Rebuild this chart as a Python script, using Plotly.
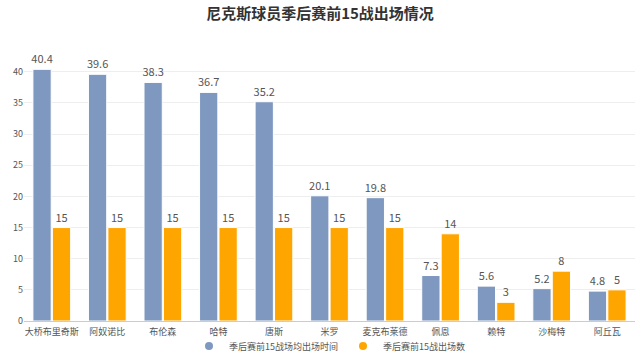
import plotly.graph_objects as go

players = ["大桥布里奇斯", "阿奴诺比", "布伦森", "哈特", "唐斯", "米罗", "麦克布莱德", "佩恩", "赖特", "沙梅特", "阿丘瓦"]
minutes = [40.4, 39.6, 38.3, 36.7, 35.2, 20.1, 19.8, 7.3, 5.6, 5.2, 4.8]
games = [15, 15, 15, 15, 15, 15, 15, 14, 3, 8, 5]
y_ticks = [0, 5, 10, 15, 20, 25, 30, 35, 40]
series_names = ["季后赛前15战场均出场时间", "季后赛前15战出场数"]
colors = ["#7f98c0", "#ffa500"]

font_family = "Noto Sans CJK SC, Microsoft YaHei, sans-serif"

fig = go.Figure()
for vals, name, col in zip([minutes, games], series_names, colors):
    fig.add_trace(go.Bar(
        x=players, y=vals, name=name, showlegend=False,
        marker=dict(color=col, line=dict(color="white", width=1)),
        text=[str(v) for v in vals], textposition="outside", constraintext="none",
        textfont=dict(size=11, color="#555"), cliponaxis=False,
    ))
for name, col in zip(series_names, colors):
    fig.add_trace(go.Scatter(
        x=[None], y=[None], mode="markers", name=name,
        marker=dict(symbol="circle", size=8, color=col),
    ))

fig.update_layout(
    width=640, height=356,
    margin=dict(l=24, r=5, t=55, b=35, autoexpand=False),
    paper_bgcolor="white", plot_bgcolor="white",
    font=dict(family=font_family, size=9, color="#555"),
    title=dict(text="<b>尼克斯球员季后赛前15战出场情况</b>", x=0.5, xanchor="center",
               y=0.96, yanchor="middle", font=dict(size=15, color="#333")),
    barmode="group", bargap=0.3, bargroupgap=0.06,
    showlegend=True,
    legend=dict(orientation="h", x=0.5, xanchor="center", yref="container", y=0.028, yanchor="middle",
                font=dict(size=9, color="#555"), itemwidth=30, traceorder="normal",
                tracegroupgap=0, bgcolor="rgba(0,0,0,0)"),
    xaxis=dict(showline=True, linecolor="#ccc", ticks="", tickfont=dict(size=9, color="#555"),
               tickangle=0, ticklabelstandoff=2),
    yaxis=dict(range=[0, 42.7], tickvals=y_ticks, showgrid=True, gridcolor="#eee",
               zeroline=False, tickfont=dict(size=9, color="#555"), ticks=""),
)

fig.write_html("out.html", post_script="document.body.style.margin='0';",
               config={"displayModeBar": False})
